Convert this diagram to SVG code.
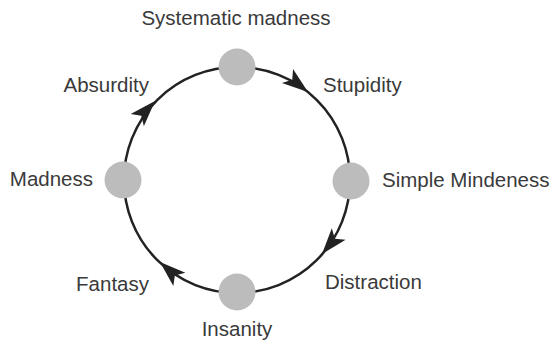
<svg xmlns="http://www.w3.org/2000/svg" xmlns:xlink="http://www.w3.org/1999/xlink" width="555" height="345" viewBox="0 0 555 345">
  <style>
    .lbl { font-family: "Liberation Sans", Arial, sans-serif; font-size: 20.5px; fill: #3a3a3a; }
    .node { fill: #bcbcbc; }
    .ring { fill: none; stroke: #222; stroke-width: 2.5; }
    .head { fill: #222; }
  </style>
  <defs>
    <path id="arrow" d="M0,0 L-26,-9 L-20,0 L-26,9 Z"/>
  </defs>
  <rect width="555" height="345" fill="#fff"/>
  <g id="connectors">
    <circle class="ring" cx="237" cy="180" r="113"/>
    <use xlink:href="#arrow" class="head" transform="translate(308,92) rotate(38)"/>
    <use xlink:href="#arrow" class="head" transform="translate(322,254) rotate(130)"/>
    <use xlink:href="#arrow" class="head" transform="translate(160,262) rotate(222)"/>
    <use xlink:href="#arrow" class="head" transform="translate(155,101) rotate(313)"/>
  </g>
  <g id="systematic-madness">
    <circle class="node" cx="237" cy="67" r="18.5"/>
    <text class="lbl" x="236" y="25" text-anchor="middle">Systematic madness</text>
  </g>
  <g id="stupidity">
    <text class="lbl" x="323" y="92">Stupidity</text>
  </g>
  <g id="simple-mindeness">
    <circle class="node" cx="351" cy="181" r="18.5"/>
    <text class="lbl" x="382" y="187">Simple Mindeness</text>
  </g>
  <g id="distraction">
    <text class="lbl" x="325" y="289">Distraction</text>
  </g>
  <g id="insanity">
    <circle class="node" cx="237" cy="292" r="18.5"/>
    <text class="lbl" x="237" y="336" text-anchor="middle">Insanity</text>
  </g>
  <g id="fantasy">
    <text class="lbl" x="149" y="291" text-anchor="end">Fantasy</text>
  </g>
  <g id="madness">
    <circle class="node" cx="123" cy="180" r="18.5"/>
    <text class="lbl" x="93" y="186" text-anchor="end">Madness</text>
  </g>
  <g id="absurdity">
    <text class="lbl" x="149" y="92" text-anchor="end">Absurdity</text>
  </g>
</svg>
